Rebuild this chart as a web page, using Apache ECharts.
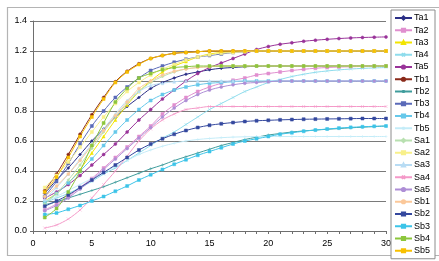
<!DOCTYPE html>
<html>
<head>
<meta charset="utf-8">
<script src="https://cdn.jsdelivr.net/npm/echarts@6/dist/echarts.min.js"></script>
<style>
  html, body { margin: 0; padding: 0; background: #fff; }
  #chart { width: 439px; height: 261px; }
</style>
</head>
<body>
<div id="chart"></div>
<script>
const xValues = [1,2,3,4,5,6,7,8,9,10,11,12,13,14,15,16,17,18,19,20,21,22,23,24,25,26,27,28,29,30]
const yTicks = [0, 0.2, 0.4, 0.6, 0.8, 1.0, 1.2, 1.4]
const xTicks = [0, 5, 10, 15, 20, 25, 30]

const Ta1 = [0.25,0.34,0.42,0.51,0.60,0.68,0.76,0.83,0.89,0.95,0.99,1.02,1.045,1.06,1.075,1.085,1.09,1.095,1.098,1.1,1.1,1.1,1.1,1.1,1.1,1.1,1.1,1.1,1.1,1.1]
const Ta2 = [0.14,0.18,0.23,0.29,0.35,0.42,0.49,0.56,0.63,0.70,0.78,0.84,0.89,0.93,0.96,0.985,1.005,1.02,1.04,1.05,1.06,1.07,1.078,1.085,1.09,1.093,1.095,1.097,1.098,1.1]
const Ta3 = [0.20,0.25,0.32,0.41,0.52,0.63,0.74,0.84,0.93,1.0,1.06,1.10,1.13,1.16,1.18,1.19,1.195,1.2,1.2,1.2,1.2,1.2,1.2,1.2,1.2,1.2,1.2,1.2,1.2,1.2]
const Ta4 = [0.19,0.22,0.25,0.29,0.33,0.38,0.42,0.47,0.52,0.57,0.62,0.66,0.71,0.76,0.81,0.85,0.89,0.93,0.96,0.99,1.01,1.03,1.045,1.058,1.067,1.074,1.08,1.084,1.087,1.09]
const Ta5 = [0.22,0.26,0.31,0.37,0.44,0.51,0.58,0.66,0.74,0.81,0.88,0.94,1.0,1.05,1.09,1.12,1.15,1.18,1.21,1.23,1.245,1.255,1.265,1.272,1.278,1.283,1.287,1.29,1.292,1.294]
const Tb1 = [0.27,0.38,0.51,0.645,0.775,0.89,0.995,1.065,1.115,1.15,1.17,1.185,1.19,1.195,1.2,1.2,1.2,1.2,1.2,1.2,1.2,1.2,1.2,1.2,1.2,1.2,1.2,1.2,1.2,1.2]
const Tb2 = [0.175,0.195,0.22,0.245,0.27,0.295,0.325,0.355,0.385,0.415,0.44,0.47,0.495,0.52,0.545,0.57,0.59,0.61,0.625,0.64,0.65,0.66,0.667,0.673,0.678,0.683,0.688,0.692,0.696,0.70]
const Tb3 = [0.23,0.33,0.45,0.58,0.70,0.80,0.89,0.96,1.02,1.07,1.10,1.125,1.145,1.16,1.17,1.18,1.19,1.195,1.2,1.2,1.2,1.2,1.2,1.2,1.2,1.2,1.2,1.2,1.2,1.2]
const Tb4 = [0.19,0.25,0.32,0.40,0.48,0.57,0.66,0.74,0.81,0.87,0.91,0.94,0.96,0.975,0.985,0.99,0.995,1.0,1.0,1.0,1.0,1.0,1.0,1.0,1.0,1.0,1.0,1.0,1.0,1.0]
const Tb5 = [0.20,0.23,0.27,0.31,0.35,0.39,0.43,0.47,0.51,0.54,0.565,0.585,0.60,0.61,0.617,0.622,0.626,0.628,0.63,0.63,0.63,0.63,0.63,0.63,0.63,0.63,0.63,0.63,0.63,0.63]
const Sa1 = [0.18,0.25,0.34,0.44,0.55,0.66,0.76,0.85,0.93,0.99,1.03,1.06,1.08,1.09,1.095,1.1,1.1,1.1,1.1,1.1,1.1,1.1,1.1,1.1,1.1,1.1,1.1,1.1,1.1,1.1]
const Sa2 = [0.29,0.37,0.46,0.56,0.66,0.76,0.85,0.93,0.99,1.04,1.08,1.11,1.14,1.16,1.175,1.185,1.19,1.195,1.2,1.2,1.2,1.2,1.2,1.2,1.2,1.2,1.2,1.2,1.2,1.2]
const Sa3 = [0.21,0.29,0.38,0.48,0.58,0.68,0.78,0.87,0.93,0.97,0.985,0.995,1.0,1.0,1.0,1.0,1.0,1.0,1.0,1.0,1.0,1.0,1.0,1.0,1.0,1.0,1.0,1.0,1.0,1.0]
const Sa4 = [0.02,0.04,0.08,0.14,0.22,0.31,0.40,0.50,0.60,0.68,0.74,0.78,0.81,0.82,0.83,0.83,0.83,0.83,0.83,0.83,0.83,0.83,0.83,0.83,0.83,0.83,0.83,0.83,0.83,0.83]
const Sa5 = [0.135,0.17,0.22,0.28,0.34,0.41,0.48,0.55,0.62,0.69,0.76,0.82,0.87,0.91,0.94,0.96,0.975,0.985,0.99,0.995,1.0,1.0,1.0,1.0,1.0,1.0,1.0,1.0,1.0,1.0]
const Sb1 = [0.23,0.30,0.38,0.47,0.57,0.67,0.77,0.86,0.95,1.0,1.04,1.065,1.08,1.09,1.095,1.1,1.1,1.1,1.1,1.1,1.1,1.1,1.1,1.1,1.1,1.1,1.1,1.1,1.1,1.1]
const Sb2 = [0.165,0.20,0.24,0.29,0.34,0.39,0.44,0.49,0.54,0.58,0.615,0.645,0.67,0.69,0.705,0.715,0.723,0.73,0.735,0.738,0.741,0.743,0.745,0.746,0.747,0.748,0.749,0.75,0.75,0.75]
const Sb3 = [0.11,0.12,0.145,0.17,0.20,0.23,0.265,0.30,0.34,0.375,0.41,0.445,0.475,0.505,0.53,0.555,0.58,0.60,0.615,0.63,0.645,0.655,0.665,0.673,0.68,0.686,0.691,0.695,0.698,0.70]
const Sb4 = [0.09,0.15,0.26,0.40,0.57,0.72,0.86,0.95,1.02,1.05,1.075,1.09,1.095,1.1,1.1,1.1,1.1,1.1,1.1,1.1,1.1,1.1,1.1,1.1,1.1,1.1,1.1,1.1,1.1,1.1]
const Sb5 = [0.26,0.36,0.49,0.63,0.76,0.88,0.99,1.06,1.11,1.15,1.17,1.185,1.19,1.195,1.2,1.2,1.2,1.2,1.2,1.2,1.2,1.2,1.2,1.2,1.2,1.2,1.2,1.2,1.2,1.2]

const X_ICON = 'path://M0,0L10,10M10,0L0,10'
const PLUS_ICON = 'path://M5,0L5,10M0,5L10,5'
const DASH_ICON = 'path://M0,4L10,4L10,6L0,6Z'

// name, values, colour, marker
const seriesDefs = [
  ['Ta1', Ta1, '#2b2f86', 'diamond'],
  ['Ta2', Ta2, '#e08fcf', 'rect'],
  ['Ta3', Ta3, '#f2e400', 'triangle'],
  ['Ta4', Ta4, '#8fdcec', X_ICON],
  ['Ta5', Ta5, '#993399', 'circle'],
  ['Tb1', Tb1, '#8a2a1a', 'circle'],
  ['Tb2', Tb2, '#3f9c9c', PLUS_ICON],
  ['Tb3', Tb3, '#5a6ab8', DASH_ICON],
  ['Tb4', Tb4, '#66c8ea', DASH_ICON],
  ['Tb5', Tb5, '#c4ecf8', PLUS_ICON],
  ['Sa1', Sa1, '#b8e0b0', 'diamond'],
  ['Sa2', Sa2, '#f8f08a', 'rect'],
  ['Sa3', Sa3, '#b8dcf4', 'triangle'],
  ['Sa4', Sa4, '#f499c8', X_ICON],
  ['Sa5', Sa5, '#ae8ed6', 'circle'],
  ['Sb1', Sb1, '#fbc89a', 'circle'],
  ['Sb2', Sb2, '#34489e', DASH_ICON],
  ['Sb3', Sb3, '#3cc4e8', DASH_ICON],
  ['Sb4', Sb4, '#8cc63c', 'rect'],
  ['Sb5', Sb5, '#f8c000', 'rect'],
]

const series = seriesDefs.map(([name, vals, color, symbol]) => ({
  name,
  type: 'line',
  data: xValues.map((x, i) => [x, vals[i]]),
  smooth: 0.3,
  symbol,
  symbolSize: 3,
  lineStyle: { color, width: 1 },
  itemStyle: { color, borderColor: color, borderWidth: 0.5 },
  emphasis: { disabled: true },
  animation: false,
}))

const chart = echarts.init(document.getElementById('chart'))
chart.setOption({
  animation: false,
  textStyle: { fontFamily: 'Liberation Sans, Arial, sans-serif' },
  graphic: [{
    type: 'rect',
    shape: { x: 7.5, y: 7.5, width: 440, height: 248 },
    style: { fill: 'none', stroke: '#b4b4b4', lineWidth: 1.2 },
    silent: true,
  }],
  legend: {
    orient: 'vertical',
    left: 391,
    top: 10,
    padding: [3, 5, 3, 3],
    itemWidth: 17,
    itemHeight: 4,
    itemGap: 2.25,
    borderColor: '#8c8c8c',
    borderWidth: 1,
    backgroundColor: '#fff',
    textStyle: { fontSize: 9, color: '#000', lineHeight: 10, padding: [0, 0, 0, -3] },
    data: seriesDefs.map(d => d[0]),
  },
  grid: { left: 33, right: 53, top: 21, bottom: 30, containLabel: false },
  xAxis: {
    type: 'value',
    min: xTicks[0],
    max: xTicks[xTicks.length - 1],
    interval: 5,
    axisLine: { lineStyle: { color: '#6e6e6e', width: 1 } },
    axisTick: { show: true, length: 3, lineStyle: { color: '#6e6e6e' } },
    minorTick: { show: true, splitNumber: 5, length: 3, lineStyle: { color: '#6e6e6e' } },
    axisLabel: { fontSize: 9, color: '#000', margin: 8 },
    splitLine: { show: false },
  },
  yAxis: {
    type: 'value',
    min: yTicks[0],
    max: yTicks[yTicks.length - 1],
    interval: 0.2,
    axisLine: { show: true, lineStyle: { color: '#6e6e6e', width: 1 } },
    axisTick: { show: true, length: 3, lineStyle: { color: '#6e6e6e' } },
    axisLabel: { fontSize: 9, color: '#000', margin: 6, formatter: v => v.toFixed(1) },
    splitLine: { show: true, lineStyle: { color: '#7a7a7a', width: 1 } },
  },
  series,
})
</script>
</body>
</html>
